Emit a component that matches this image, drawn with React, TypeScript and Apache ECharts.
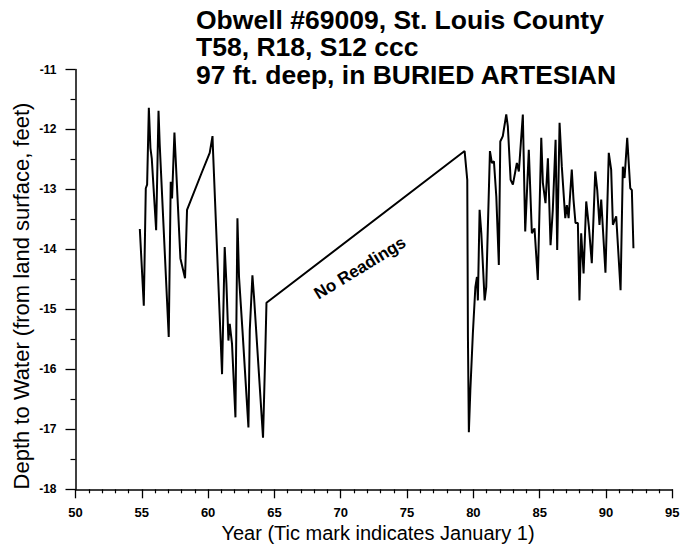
import React, { useEffect, useRef } from "react";
import * as echarts from "echarts";

const titleLines = [
  "Obwell #69009, St. Louis County",
  "T58, R18, S12 ccc",
  "97 ft. deep, in BURIED ARTESIAN",
];
const xAxisTitle = "Year (Tic mark indicates January 1)";
const yAxisTitle = "Depth to Water (from land surface, feet)";
const gapNote = "No Readings";

const xTickValues = [50, 55, 60, 65, 70, 75, 80, 85, 90, 95];
const yTickValues = [-18, -17, -16, -15, -14, -13, -12, -11];

const years = [
  54.85, 55.15, 55.3, 55.4, 55.53, 55.65, 55.75, 56.08, 56.26, 56.35,
  57.03, 57.18, 57.28, 57.46, 57.91, 58.26, 58.41, 59.5, 60.12, 60.33,
  60.37, 61.05, 61.25, 61.38, 61.53, 61.63, 61.8, 62.06, 62.21, 62.33,
  62.59, 63.04, 63.14, 63.34, 63.46, 64.14, 64.32, 64.4,
  79.34, 79.54, 79.59, 79.66, 79.77, 79.96, 80.15, 80.27, 80.34, 80.47,
  80.6, 80.85, 80.97, 81.25, 81.4, 81.55, 81.73, 81.92, 82.03, 82.22,
  82.48, 82.6, 82.81, 82.98, 83.28, 83.43, 83.73, 83.91, 84.18, 84.41,
  84.61, 84.86, 85.12, 85.24, 85.44, 85.62, 85.82, 85.99, 86.2, 86.32,
  86.5, 86.67, 86.93, 87.05, 87.18, 87.42, 87.55, 87.7, 87.88, 88.0,
  88.13, 88.31, 88.51, 88.71, 88.93, 89.19, 89.34, 89.51, 89.64, 89.96,
  90.21, 90.39, 90.52, 90.77, 91.1, 91.27, 91.4, 91.6, 91.83, 91.95,
  92.07,
];
const depths = [
  -13.66, -14.94, -12.98, -12.92, -11.64, -12.31, -12.48, -13.68, -11.69, -12.25,
  -15.46, -12.87, -13.15, -12.05, -14.15, -14.48, -13.34, -12.73, -12.39, -12.11,
  -12.36, -16.08, -13.96, -14.57, -15.52, -15.24, -15.57, -16.8, -13.48, -14.46,
  -15.35, -16.97, -15.35, -14.43, -14.79, -17.14, -15.63, -14.89,
  -12.36, -12.84, -15.46, -17.05, -16.36, -15.41, -14.63, -14.46, -14.85, -13.34,
  -13.73, -14.85, -14.63, -12.36, -12.56, -12.53, -13.12, -14.26, -12.2, -12.11,
  -11.75, -11.95, -12.84, -12.92, -12.56, -12.7, -11.75, -13.7, -12.34, -13.73,
  -13.65, -14.51, -12.14, -12.89, -13.23, -12.48, -13.93, -13.34, -12.17, -14.01,
  -11.89, -12.62, -13.48, -13.26, -13.48, -12.67, -13.17, -13.56, -13.56, -14.85,
  -13.73, -14.4, -13.2, -13.62, -14.23, -12.7, -13.01, -13.59, -13.17, -14.39,
  -12.39, -12.67, -13.59, -13.45, -14.68, -12.62, -12.81, -12.14, -12.98, -13.01,
  -13.98,
];

export default function App() {
  const ref = useRef<HTMLDivElement>(null);
  useEffect(() => {
    if (!ref.current) return;
    const chart = echarts.init(ref.current, null, { renderer: "svg" });
    const font = "'Liberation Sans', Arial, Helvetica, sans-serif";
    chart.setOption({
      animation: false,
      backgroundColor: "#ffffff",
      textStyle: { fontFamily: font },
      grid: { left: 75.5, top: 69.5, right: 21.7, bottom: 65.7, containLabel: false },
      xAxis: {
        type: "value",
        min: xTickValues[0],
        max: xTickValues[xTickValues.length - 1],
        interval: 5,
        axisLine: { show: true, lineStyle: { color: "#000", width: 1.5 } },
        axisTick: { show: true, length: 9, lineStyle: { color: "#000", width: 1.3 } },
        minorTick: { show: true, splitNumber: 5, length: 4, lineStyle: { color: "#000", width: 1.2 } },
        splitLine: { show: false },
        axisLabel: { color: "#000", fontSize: 13, fontWeight: "bold", margin: 17, fontFamily: font },
      },
      yAxis: {
        type: "value",
        min: yTickValues[0],
        max: yTickValues[yTickValues.length - 1],
        interval: 1,
        axisLine: { show: true, lineStyle: { color: "#000", width: 1.5 } },
        axisTick: { show: true, length: 10, lineStyle: { color: "#000", width: 1.3 } },
        minorTick: { show: true, splitNumber: 2, length: 5, lineStyle: { color: "#000", width: 1.2 } },
        splitLine: { show: false },
        axisLabel: { color: "#000", fontSize: 12, fontWeight: "bold", margin: 19, fontFamily: font },
      },
      series: [
        {
          type: "line",
          data: years.map((y, i) => [y, depths[i]]),
          showSymbol: false,
          symbol: "none",
          lineStyle: { color: "#000", width: 2 },
          silent: true,
        },
      ],
      graphic: [
        ...titleLines.map((t, i) => ({
          type: "text",
          left: 196,
          top: 6 + i * 27.5,
          style: { text: t, fill: "#000", font: `bold 26.5px ${font}` },
        })),
        {
          type: "text",
          x: 378,
          y: 533,
          style: { text: xAxisTitle, fill: "#000", font: `20px ${font}`, textAlign: "center", textVerticalAlign: "middle" },
        },
        {
          type: "text",
          x: 21,
          y: 296,
          rotation: Math.PI / 2,
          style: { text: yAxisTitle, fill: "#000", font: `22px ${font}`, textAlign: "center", textVerticalAlign: "middle" },
        },
        {
          type: "text",
          x: 360,
          y: 268,
          rotation: 0.55,
          style: { text: gapNote, fill: "#000", font: `bold 17px ${font}`, textAlign: "center", textVerticalAlign: "middle" },
        },
      ],
    });
    return () => chart.dispose();
  }, []);
  return <div ref={ref} style={{ position: "fixed", left: 0, top: 0, width: 694, height: 555 }} />;
}
